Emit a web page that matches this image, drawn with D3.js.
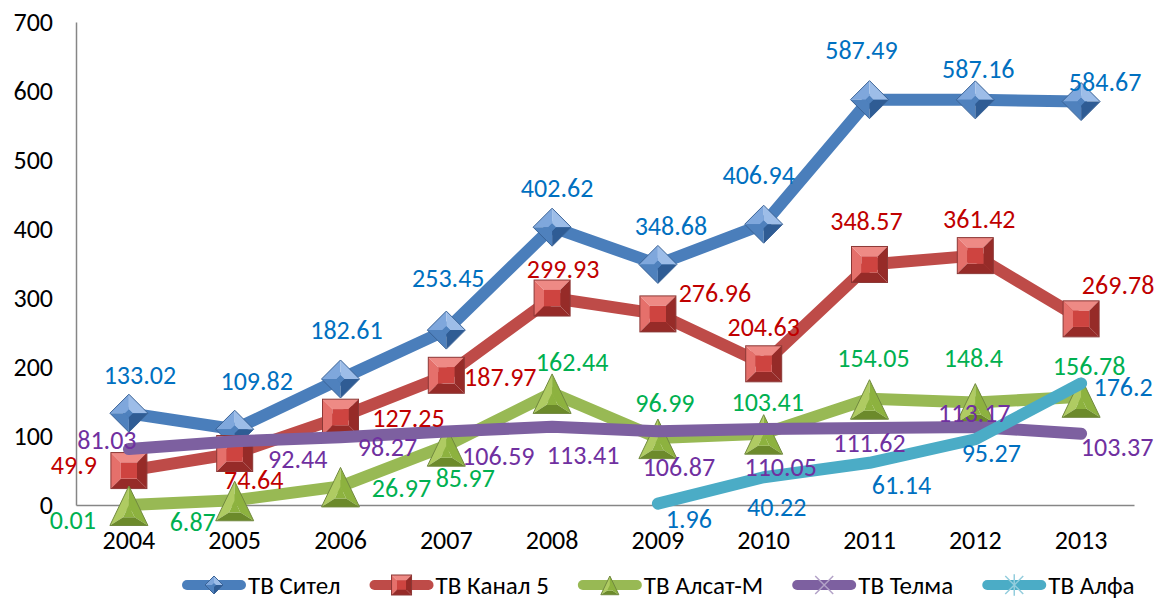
<!DOCTYPE html>
<html>
<head>
<meta charset="utf-8">
<script src="https://cdn.jsdelivr.net/npm/d3@7"></script>
<style>
  body { margin: 0; background: #fff; }
  svg { display: block; font-family: Carlito, Lato, sans-serif; }
</style>
</head>
<body>
<div id="chart"></div>
<script>
const years = ["2004", "2005", "2006", "2007", "2008", "2009", "2010", "2011", "2012", "2013"];
const yTicks = [0, 100, 200, 300, 400, 500, 600, 700];
const seriesNames = ["ТВ Сител", "ТВ Канал 5", "ТВ Алсат-М", "ТВ Телма", "ТВ Алфа"];
const sitel = [133.02, 109.82, 182.61, 253.45, 402.62, 348.68, 406.94, 587.49, 587.16, 584.67];
const kanal5 = [49.9, 74.64, 127.25, 187.97, 299.93, 276.96, 204.63, 348.57, 361.42, 269.78];
const alsat = [0.01, 6.87, 26.97, 85.97, 162.44, 96.99, 103.41, 154.05, 148.4, 156.78];
const telma = [81.03, 92.44, 98.27, 106.59, 113.41, 106.87, 110.05, 111.62, 113.17, 103.37];
const alfa = [null, null, null, null, null, 1.96, 40.22, 61.14, 95.27, 176.2];

const width = 1159;
const height = 601;

// label nudges (px from the point), placed by hand like the original
const labelNudge = [
  [[11, -38], [22, -48], [6, -49], [2, -52], [5, -39], [13, -39], [-5, -49], [-8, -50], [3, -31], [24, -20]],
  [[-55, -6], [19, 26], [68, 1], [54, 2], [11, -29], [57, -21], [0, -37], [-3, -44], [4, -37], [37, -34]],
  [[-56, 15], [-42, 22], [61, 2], [19, 32], [20, -31], [7, -35], [4, -32], [4, -41], [-2, -45], [8, -31]],
  [[-22, -9], [63, 18], [47, 10], [52, 24], [31, 28], [21, 36], [17, 38], [0, 15], [-1, -14], [36, 13]],
  [null, null, null, null, null, [31, 15], [13, 30], [32, 22], [16, 14], [42, 3]],
];

const styles = [
  { line: "#4A7EBB", label: "#0070C0", marker: "diamond", base: "#4F81BD", light: "#7FA7DC", lighter: "#9DBDE8", dark: "#2F5C94", edge: "#3A6397" },
  { line: "#BE4B48", label: "#C00000", marker: "square", base: "#CE4440", light: "#E5706B", lighter: "#EE8A85", dark: "#962B28", edge: "#8C3836" },
  { line: "#98B954", label: "#00B050", marker: "triangle", base: "#8DB23F", light: "#AFCB62", lighter: "#C2DA7C", dark: "#6C8A2B", edge: "#71893F" },
  { line: "#7D60A0", label: "#7030A0", marker: "cross", legend: "#B3A2C7" },
  { line: "#4BACC6", label: "#0070C0", marker: "star", legend: "#93CDDD" },
];

const data = [sitel, kanal5, alsat, telma, alfa];

const svg = d3.select("#chart").append("svg")
  .attr("width", width)
  .attr("height", height);

const x = d3.scaleBand().domain(years).range([76, 1134]);
const cx = (d) => x(d) + x.bandwidth() / 2;
const y = d3.scaleLinear().domain([0, 700]).range([505, 22]);

// axes
const yAxis = svg.append("g")
  .attr("transform", `translate(${x.range()[0]},0)`)
  .call(d3.axisLeft(y).tickValues(yTicks).tickSize(0).tickSizeOuter(0).tickPadding(23));
yAxis.select(".domain").attr("stroke", "#868686").attr("stroke-width", 1.5);
yAxis.selectAll("text").attr("font-size", 26).attr("fill", "#000").attr("font-family", "Carlito, Lato, sans-serif");

const xAxis = svg.append("g")
  .attr("transform", `translate(0,${y(0)})`)
  .call(d3.axisBottom(x).tickSize(0).tickSizeOuter(0).tickPadding(26));
xAxis.select(".domain").attr("stroke", "#868686").attr("stroke-width", 1.5);
xAxis.selectAll("text").attr("font-size", 26).attr("fill", "#000").attr("font-family", "Carlito, Lato, sans-serif");

// beveled marker drawing
function marker(g, type, s, st) {
  const h = s / 2;
  if (type === "square") {
    const i = h * 0.45;
    const facets = [
      [[-h, -h], [h, -h], [i, -i], [-i, -i], st.lighter],
      [[-h, -h], [-i, -i], [-i, i], [-h, h], st.light],
      [[h, -h], [h, h], [i, i], [i, -i], st.dark],
      [[-h, h], [-i, i], [i, i], [h, h], st.dark],
    ];
    facets.forEach((f) => g.append("polygon").attr("points", f.slice(0, 4).join(" ")).attr("fill", f[4]));
    g.append("rect").attr("x", -i).attr("y", -i).attr("width", 2 * i).attr("height", 2 * i).attr("fill", st.base);
    g.append("rect").attr("x", -h).attr("y", -h).attr("width", s).attr("height", s)
      .attr("fill", "none").attr("stroke", st.edge).attr("stroke-width", 1);
  } else if (type === "diamond") {
    const i = h * 0.2;
    const facets = [
      [[0, -h], [-h, 0], [-i, 0], [0, -i], st.light],
      [[0, -h], [h, 0], [i, 0], [0, -i], st.lighter],
      [[-h, 0], [0, h], [0, i], [-i, 0], st.base],
      [[h, 0], [0, h], [0, i], [i, 0], st.dark],
    ];
    facets.forEach((f) => g.append("polygon").attr("points", f.slice(0, 4).join(" ")).attr("fill", f[4]));
    g.append("polygon").attr("points", [[0, -i], [i, 0], [0, i], [-i, 0]].join(" ")).attr("fill", st.base);
    g.append("polygon").attr("points", [[0, -h], [h, 0], [0, h], [-h, 0]].join(" "))
      .attr("fill", "none").attr("stroke", st.edge).attr("stroke-width", 1);
  } else if (type === "triangle") {
    const top = [0, -h], bl = [-h, h * 1.08], br = [h, h * 1.08];
    const k = 0.3;
    const c = [0, h * 0.45];
    const sh = (p) => [c[0] + (p[0] - c[0]) * k, c[1] + (p[1] - c[1]) * k];
    const it = sh(top), il = sh(bl), ir = sh(br);
    g.append("polygon").attr("points", [top, bl, il, it].join(" ")).attr("fill", st.light);
    g.append("polygon").attr("points", [top, br, ir, it].join(" ")).attr("fill", st.base);
    g.append("polygon").attr("points", [bl, br, ir, il].join(" ")).attr("fill", st.dark);
    g.append("polygon").attr("points", [it, il, ir].join(" ")).attr("fill", st.base);
    g.append("polygon").attr("points", [top, bl, br].join(" "))
      .attr("fill", "none").attr("stroke", st.edge).attr("stroke-width", 1);
  } else if (type === "cross") {
    g.append("path").attr("d", `M${-h},${-h}L${h},${h}M${h},${-h}L${-h},${h}`)
      .attr("stroke", st.legend).attr("stroke-width", 1.5);
  } else if (type === "star") {
    g.append("path").attr("d", `M${-h},${-h}L${h},${h}M${h},${-h}L${-h},${h}M0,${-h * 1.2}L0,${h * 1.2}`)
      .attr("stroke", st.legend).attr("stroke-width", 1.5);
  }
}

const line = d3.line()
  .defined((d) => d.v !== null)
  .x((d) => cx(d.year))
  .y((d) => y(d.v));

const plot = svg.append("g");

data.forEach((vals, si) => {
  const st = styles[si];
  const pts = years.map((yr, i) => ({ year: yr, v: vals[i] }));
  const g = plot.append("g");
  g.append("path")
    .datum(pts)
    .attr("d", line)
    .attr("fill", "none")
    .attr("stroke", st.line)
    .attr("stroke-width", 12)
    .attr("stroke-linecap", "round")
    .attr("stroke-linejoin", "round");
  if (st.marker === "diamond" || st.marker === "square" || st.marker === "triangle") {
    g.selectAll("g.mk")
      .data(pts.filter((d) => d.v !== null))
      .join("g")
      .attr("class", "mk")
      .attr("transform", (d) => `translate(${cx(d.year)},${y(d.v)})`)
      .each(function () {
        marker(d3.select(this), st.marker, st.marker === "square" ? 36 : 38, st);
      });
  }
});

// data labels on top
data.forEach((vals, si) => {
  const st = styles[si];
  svg.append("g")
    .selectAll("text")
    .data(years.map((yr, i) => ({ year: yr, v: vals[i], n: labelNudge[si][i] })).filter((d) => d.v !== null))
    .join("text")
    .attr("x", (d) => cx(d.year) + d.n[0])
    .attr("y", (d) => y(d.v) + d.n[1])
    .attr("dy", "0.35em")
    .attr("text-anchor", "middle")
    .attr("font-size", 26)
    .attr("fill", st.label)
    .text((d) => d.v);
});

// legend
const legend = svg.append("g").attr("transform", "translate(0,585)");
let lx = 183;
seriesNames.forEach((name, si) => {
  const st = styles[si];
  const item = legend.append("g").attr("transform", `translate(${lx},0)`);
  item.append("line")
    .attr("x1", 4).attr("x2", 58)
    .attr("stroke", st.line).attr("stroke-width", 10).attr("stroke-linecap", "round");
  const m = item.append("g").attr("transform", "translate(31,0)");
  marker(m, st.marker, st.marker === "square" ? 20 : 18, st);
  const t = item.append("text")
    .attr("x", 65)
    .attr("dy", "0.35em")
    .attr("font-size", 25)
    .attr("fill", "#000")
    .text(name);
  lx += 65 + t.node().getComputedTextLength() + 30;
});
</script>
</body>
</html>
